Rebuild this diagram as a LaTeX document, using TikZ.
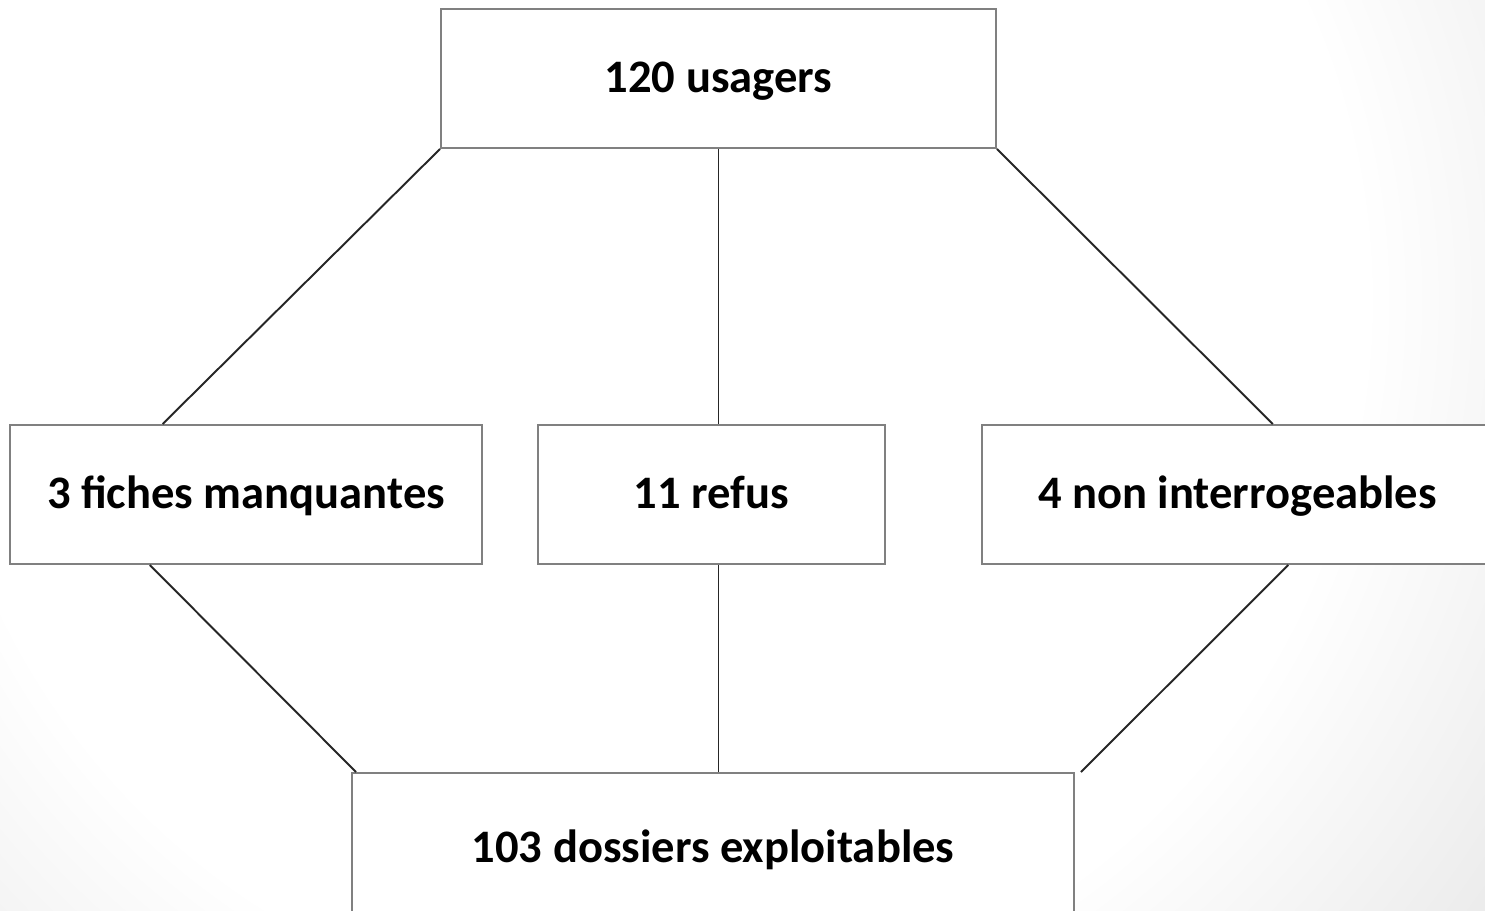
\documentclass[tikz,border=0pt]{standalone}
\usepackage{fontspec}
\setmainfont{Carlito}
\usepackage{tikz}
\usepackage{xcolor}
\usetikzlibrary{calc, positioning}

\pgfdeclareradialshading{fond}{\pgfpoint{0bp}{0bp}}{color(0bp)=(white); color(17bp)=(white); color(25bp)=(black!8); color(50bp)=(black!8)}

\begin{document}
\begin{tikzpicture}[
        case/.style={draw=black!50, line width=1.1pt, fill=white, minimum height=2.78cm, text height=0.9cm, text depth=0.34cm, font=\fontsize{26.5}{30}\selectfont\bfseries},
        lien/.style={draw=black!85, line width=1.1pt}
    ]
                            \useasboundingbox (0, 0) rectangle (29.7, -18.2);
                            \shade[shading=fond] (-8, 15) rectangle (34, -27);

                            \node[case, minimum width=11.1cm] (usagers) at (14.37, -1.57) {120 usagers};
                            \node[case, minimum width=9.44cm] (fiches) at (4.92, -9.89) {3 fiches manquantes};
                            \node[case, minimum width=6.94cm] (refus) at (14.23, -9.89) {11 refus};
                            \node[case, minimum width=10.22cm] (noninterr) at (24.75, -9.89) {4 non interrogeables};
                            \node[case, minimum width=14.44cm, minimum height=3cm] (dossiers) at (14.26, -16.96) {103 dossiers exploitables};

                            \draw[lien] (usagers.south west) -- ($(fiches.north west)!0.324!(fiches.north east)$);
                            \draw[lien] (usagers.south) -- (refus.north -| usagers.south);
                            \draw[lien] (usagers.south east) -- ($(noninterr.north west)!0.569!(noninterr.north east)$);

                            \draw[lien] ($(fiches.south west)!0.297!(fiches.south east)$) -- ($(dossiers.north west)+(0.1, 0)$);
                            \draw[lien] (refus.south -| usagers.south) -- (dossiers.north -| usagers.south);
                            \draw[lien] ($(noninterr.south west)!0.599!(noninterr.south east)$) -- ($(dossiers.north east)+(0.12, 0)$);
                        \end{tikzpicture}
\end{document}
